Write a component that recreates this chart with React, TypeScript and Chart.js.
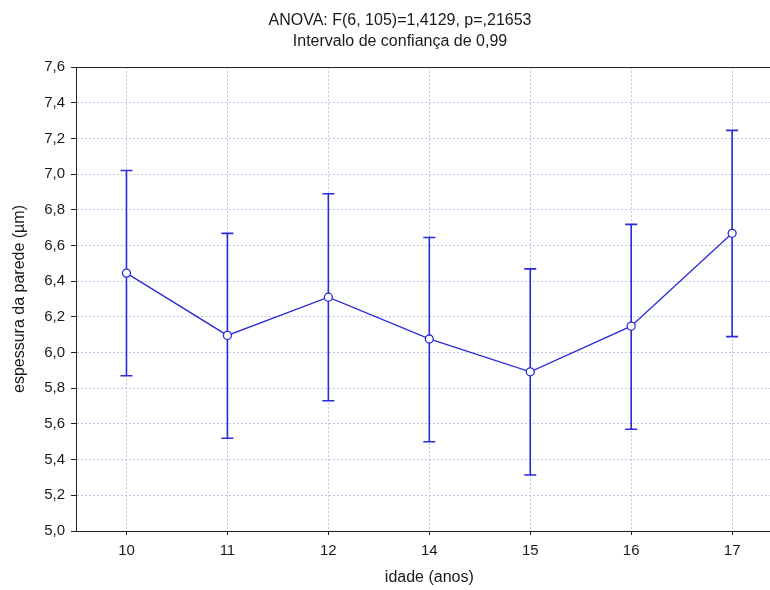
import React, { useEffect, useRef } from 'react';
import { Chart, registerables } from 'chart.js';

Chart.register(...registerables);

const categories = ['10', '11', '12', '14', '15', '16', '17'];
const means = [6.445, 6.096, 6.31, 6.076, 5.892, 6.148, 6.668];
const lowerCI = [5.87, 5.52, 5.73, 5.5, 5.314, 5.57, 6.089];
const upperCI = [7.02, 6.668, 6.89, 6.645, 6.469, 6.718, 7.245];

const titleLines = ['ANOVA: F(6, 105)=1,4129, p=,21653', 'Intervalo de confiança de 0,99'];
const xTitle = 'idade (anos)';
const yTitle = 'espessura da parede (µm)';
const yMin = 5.0;
const yMax = 7.6;
const yStep = 0.2;

const BLUE = '#2a2ad6';
const GRID = '#c2c2ee';
const AXIS = '#222222';
const TEXT = '#1a1a1a';
const FONT = "'Liberation Sans', Arial, sans-serif";

const errorBarPlugin = {
  id: 'errorBars',
  beforeDatasetsDraw(chart: any) {
    const { ctx, chartArea, scales } = chart;
    const xs = scales.x;
    const ys = scales.y;
    ctx.save();
    ctx.strokeStyle = AXIS;
    ctx.lineWidth = 1;
    ctx.beginPath();
    ctx.moveTo(chartArea.left, Math.round(chartArea.top) + 0.5);
    ctx.lineTo(chartArea.right, Math.round(chartArea.top) + 0.5);
    ctx.stroke();
    ctx.strokeStyle = BLUE;
    ctx.lineWidth = 1.6;
    const cap = 6;
    for (let i = 0; i < categories.length; i++) {
      const x = xs.getPixelForValue(i);
      const yl = ys.getPixelForValue(lowerCI[i]);
      const yu = ys.getPixelForValue(upperCI[i]);
      ctx.beginPath();
      ctx.moveTo(x, yl);
      ctx.lineTo(x, yu);
      ctx.moveTo(x - cap, yu);
      ctx.lineTo(x + cap, yu);
      ctx.moveTo(x - cap, yl);
      ctx.lineTo(x + cap, yl);
      ctx.stroke();
    }
    ctx.restore();
  },
};

export default function App() {
  const canvasRef = useRef<HTMLCanvasElement | null>(null);

  useEffect(() => {
    if (!canvasRef.current) return;
    Chart.defaults.font.family = FONT;
    Chart.defaults.color = TEXT;
    const chart = new Chart(canvasRef.current, {
      type: 'line',
      data: {
        labels: categories,
        datasets: [
          {
            data: means,
            borderColor: BLUE,
            borderWidth: 1.3,
            pointRadius: 4,
            pointBackgroundColor: '#ffffff',
            pointBorderColor: BLUE,
            pointBorderWidth: 1.3,
            tension: 0,
          },
        ],
      },
      options: {
        responsive: false,
        animation: false,
        devicePixelRatio: 1,
        layout: { padding: 0 },
        plugins: {
          legend: { display: false },
          tooltip: { enabled: false },
          title: {
            display: true,
            text: titleLines,
            color: TEXT,
            font: { family: FONT, size: 16, weight: 'normal', lineHeight: 1.3 },
            padding: { top: 10, bottom: 15.4 },
          },
        },
        scales: {
          x: {
            type: 'category',
            offset: true,
            grid: {
              display: true,
              offset: false,
              color: GRID,
              lineWidth: 1,
              drawTicks: true,
              tickLength: 4,
              tickColor: AXIS,
              tickBorderDash: [],
            },
            border: { display: true, color: AXIS, width: 1, dash: [2, 2] },
            ticks: { font: { family: FONT, size: 15 }, color: TEXT, padding: 7, maxRotation: 0 },
            title: {
              display: true,
              text: xTitle,
              color: TEXT,
              font: { family: FONT, size: 16, lineHeight: 1.2 },
              padding: { top: 0, bottom: 2.4 },
            },
            afterFit: (s: any) => {
              s.height = 59;
            },
          },
          y: {
            type: 'linear',
            min: yMin,
            max: yMax,
            grid: {
              display: true,
              color: GRID,
              lineWidth: 1,
              drawTicks: true,
              tickLength: 5,
              tickColor: AXIS,
              tickBorderDash: [],
            },
            border: { display: true, color: AXIS, width: 1, dash: [2, 2] },
            ticks: {
              stepSize: yStep,
              font: { family: FONT, size: 15 },
              color: TEXT,
              padding: 6,
              callback: (v: any) => Number(v).toFixed(1).replace('.', ','),
            },
            title: {
              display: true,
              text: yTitle,
              color: TEXT,
              font: { family: FONT, size: 16, lineHeight: 1.2 },
              padding: { top: 10, bottom: 0 },
            },
            afterFit: (s: any) => {
              s.width = 76;
            },
          },
          yRightSpace: {
            type: 'linear',
            position: 'right',
            display: true,
            grid: { display: false },
            ticks: { display: false },
            border: { display: false },
            afterFit: (s: any) => {
              s.width = 17.4;
            },
          },
        },
      },
      plugins: [errorBarPlugin],
    } as any);
    return () => chart.destroy();
  }, []);

  return (
    <div
      style={{
        position: 'fixed',
        left: 0,
        top: 0,
        width: 770,
        height: 590,
        overflow: 'hidden',
        background: '#ffffff',
      }}
    >
      <canvas ref={canvasRef} width={800} height={590} style={{ display: 'block', width: 800, height: 590 }} />
    </div>
  );
}
